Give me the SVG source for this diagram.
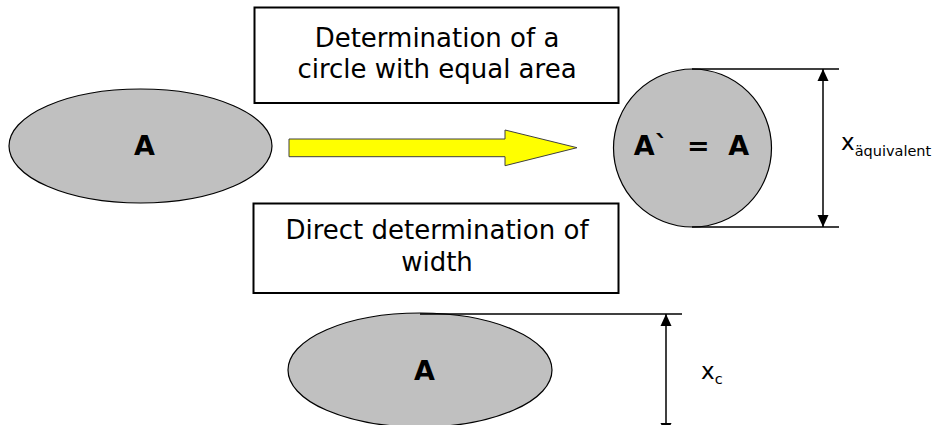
<svg xmlns="http://www.w3.org/2000/svg" width="935" height="425" viewBox="0 0 935 425">
  <defs>
    <style>
      .box { fill: #FFFFFF; stroke: #000000; stroke-width: 2; }
      .shape { fill: #C0C0C0; stroke: #000000; stroke-width: 1.2; }
      .txt { font-family: "DejaVu Sans", Verdana, sans-serif; font-size: 26px; fill: #000000; text-anchor: middle; }
      .bold { font-family: "DejaVu Sans", Verdana, sans-serif; font-size: 27px; font-weight: bold; fill: #000000; text-anchor: middle; white-space: pre; }
      .dim { stroke: #000000; stroke-width: 1.5; fill: none; }
      .lbl { font-family: "DejaVu Sans", Verdana, sans-serif; font-size: 23px; fill: #000000; }
      .sub { font-size: 14.5px; }
    </style>
    <marker id="ah" markerUnits="userSpaceOnUse" markerWidth="12" markerHeight="12" viewBox="0 0 12 12" refX="12" refY="6" orient="auto-start-reverse">
      <path d="M0,0.5 L12,6 L0,11.5 Z" fill="#000000"/>
    </marker>
  </defs>

  <g id="node-area-ellipse">
    <ellipse class="shape" cx="140.5" cy="146" rx="131.5" ry="57"/>
    <text class="bold" x="144.5" y="155">A</text>
  </g>

  <g id="node-equal-area-box">
    <rect class="box" x="254.5" y="7.5" width="364" height="95.5"/>
    <text class="txt" x="437" y="46.5">Determination of a</text>
    <text class="txt" x="437" y="77.5">circle with equal area</text>
  </g>

  <g id="node-direct-box">
    <rect class="box" x="253.5" y="203.5" width="365" height="89.5"/>
    <text class="txt" x="437" y="239">Direct determination of</text>
    <text class="txt" x="437" y="271">width</text>
  </g>

  <g id="node-equivalent-circle">
    <circle class="shape" cx="692.5" cy="148" r="79" stroke-width="1.5"/>
    <text class="bold" x="691.5" y="155">A`  =  A</text>
  </g>

  <g id="node-bottom-ellipse">
    <ellipse class="shape" cx="420" cy="370" rx="132" ry="57"/>
    <text class="bold" x="424.5" y="380">A</text>
  </g>

  <g id="connectors">
    <polygon points="289,139 505,139 505,130 577,147.7 505,165.7 505,156.7 289,156.7" fill="#FFFF00" stroke="#404040" stroke-width="1"/>
    <line class="dim" x1="692" y1="69" x2="839" y2="69"/>
    <line class="dim" x1="692" y1="227" x2="839" y2="227"/>
    <line class="dim" x1="823" y1="69" x2="823" y2="227" marker-start="url(#ah)" marker-end="url(#ah)"/>
    <line class="dim" x1="420" y1="314" x2="682" y2="314"/>
    <line class="dim" x1="666" y1="314" x2="666" y2="435" marker-start="url(#ah)" marker-end="url(#ah)"/>
  </g>

  <g id="labels">
    <text class="lbl" x="841" y="150">x<tspan class="sub" dy="6">äquivalent</tspan></text>
    <text class="lbl" x="701" y="379">x<tspan class="sub" dy="5">c</tspan></text>
  </g>
</svg>
